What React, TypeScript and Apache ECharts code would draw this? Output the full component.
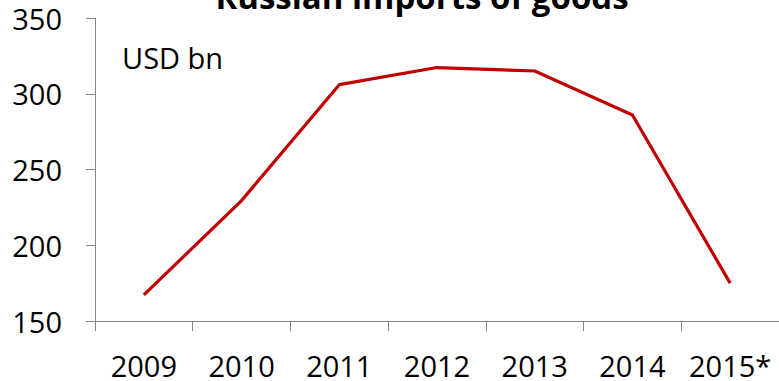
import React, { useEffect, useRef } from "react";
import * as echarts from "echarts";

const categories = ["2009", "2010", "2011", "2012", "2013", "2014", "2015*"];
const imports = [167.2, 229.5, 306, 317.3, 315, 286, 175];
const yTicks = { min: 150, max: 350, interval: 50 };
const titleText = "Russian imports of goods";
const unitText = "USD bn";

const FONT = "'Open Sans', 'Liberation Sans', sans-serif";

export default function App() {
  const ref = useRef<HTMLDivElement>(null);
  useEffect(() => {
    if (!ref.current) return;
    const chart = echarts.init(ref.current, undefined, { renderer: "svg" });
    chart.setOption({
      animation: false,
      backgroundColor: "#ffffff",
      grid: { left: 95, top: 18, height: 303, width: 687 },
      graphic: [
        {
          type: "text",
          x: 422,
          y: -4,
          style: {
            text: titleText,
            font: `bold 33px ${FONT}`,
            fill: "#000",
            textAlign: "center",
            textVerticalAlign: "middle",
          },
        },
        {
          type: "text",
          x: 122,
          y: 57.5,
          style: {
            text: unitText,
            font: `29px ${FONT}`,
            fill: "#000",
            textAlign: "left",
            textVerticalAlign: "middle",
          },
        },
      ],
      xAxis: {
        type: "category",
        data: categories,
        boundaryGap: true,
        axisLine: { lineStyle: { color: "#888888", width: 1 } },
        axisTick: { show: true, length: 10, lineStyle: { color: "#888888" } },
        axisLabel: {
          color: "#000",
          fontFamily: FONT,
          fontSize: 29,
          margin: 30,
          interval: 0,
        },
        splitLine: { show: false },
      },
      yAxis: {
        type: "value",
        min: yTicks.min,
        max: yTicks.max,
        interval: yTicks.interval,
        axisLine: { show: true, lineStyle: { color: "#888888", width: 1 } },
        axisTick: { show: true, length: 9, lineStyle: { color: "#888888" } },
        axisLabel: {
          color: "#000",
          fontFamily: FONT,
          fontSize: 29,
          margin: 33,
        },
        splitLine: { show: false },
      },
      series: [
        {
          type: "line",
          data: imports,
          symbol: "none",
          lineStyle: { color: "#C00000", width: 3.2 },
          itemStyle: { color: "#C00000" },
        },
      ],
    });
    return () => chart.dispose();
  }, []);
  return (
    <div
      ref={ref}
      style={{ position: "fixed", left: 0, top: 0, width: 779, height: 381 }}
    />
  );
}
